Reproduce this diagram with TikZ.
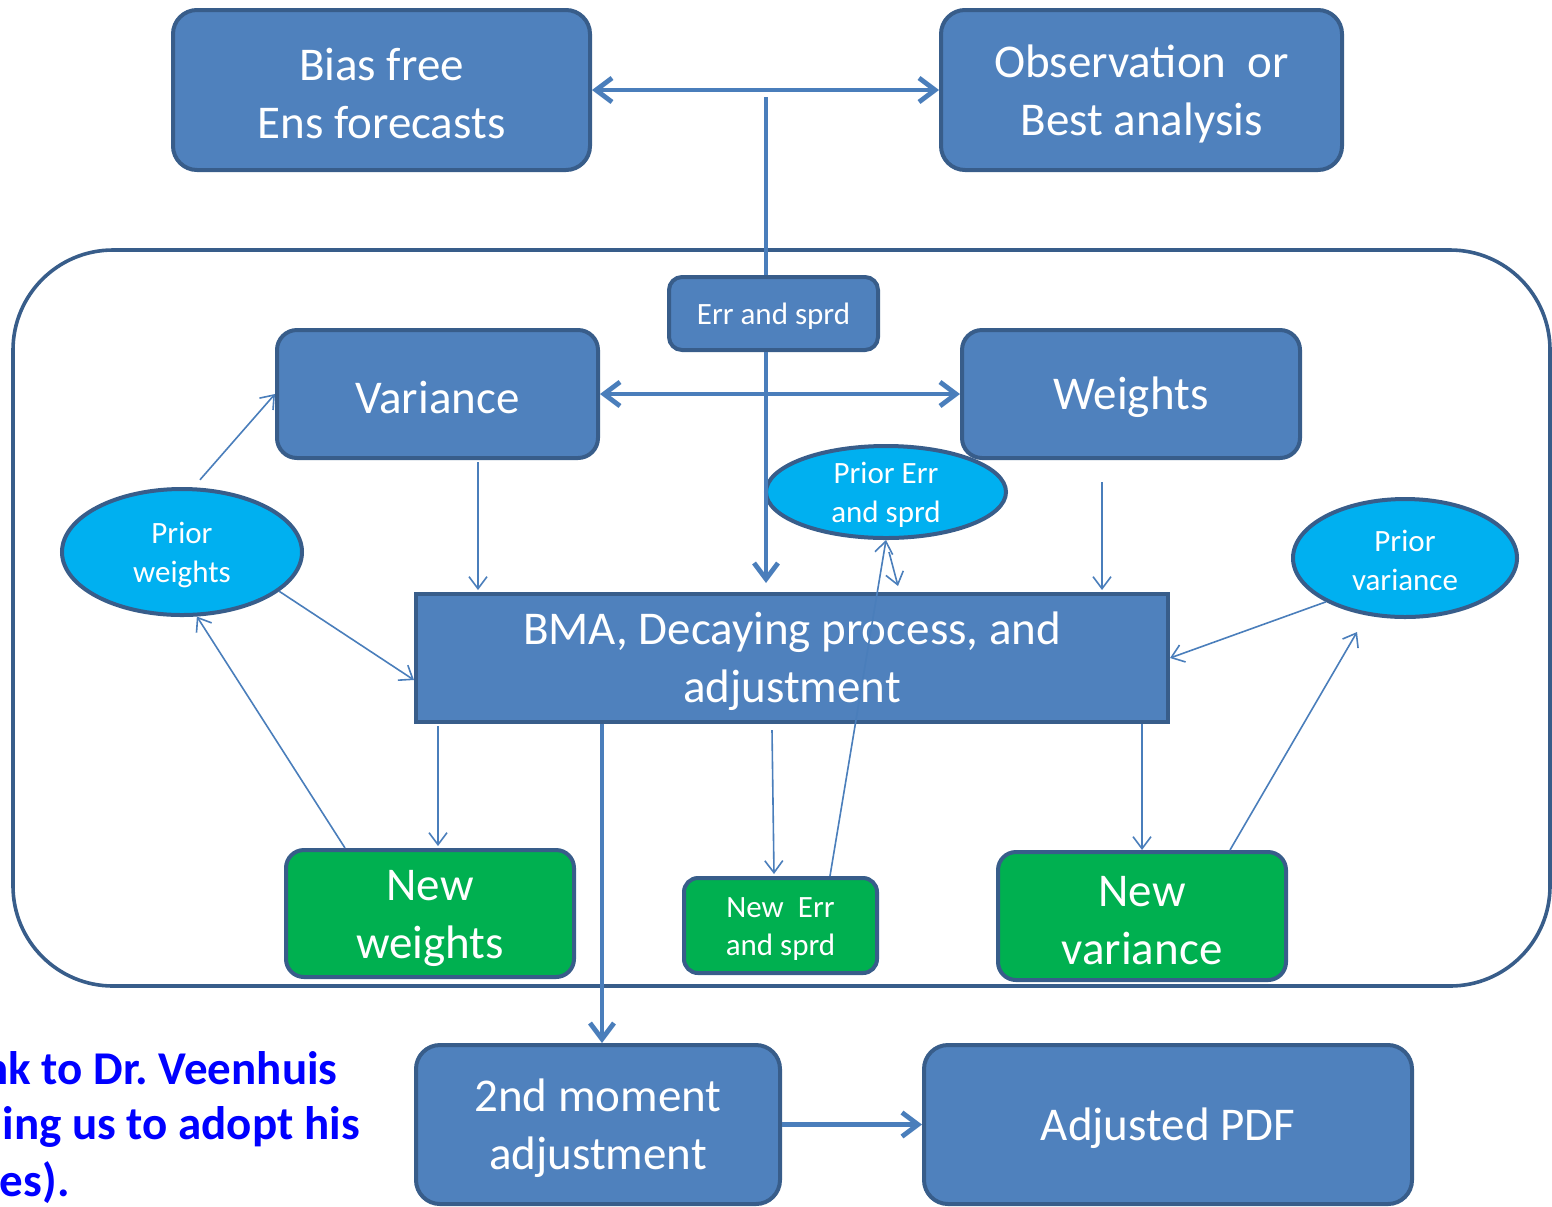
\documentclass[tikz,border=0pt]{standalone}
\usepackage{fontspec}
\setmainfont{Carlito}
\usetikzlibrary{shapes.geometric,arrows.meta,calc}
\definecolor{boxfill}{HTML}{4F81BD}
\definecolor{boxedge}{HTML}{385D8A}
\definecolor{linkblue}{HTML}{4A7EBB}
\definecolor{priorfill}{HTML}{00B0F0}
\definecolor{newfill}{HTML}{00B050}
\definecolor{thanksblue}{HTML}{0000FF}
\newcommand{\boxlift}{\rule{0pt}{0.85em}}
\tikzset{
    stage/.style={draw=boxedge, fill=boxfill, line width=2pt, rounded corners=12pt, text=white, align=center, inner sep=0pt, font=\fontsize{23.5}{29}\selectfont},
    newstage/.style={stage, fill=newfill, rounded corners=9pt},
    prior/.style={ellipse, draw=boxedge, fill=priorfill, line width=2pt, text=white, align=center, inner sep=0pt, font=\fontsize{15.5}{19.5}\selectfont},
    bigflow/.style={linkblue, line width=2.4pt, -{Straight Barb[length=8pt,width=12pt]}},
    bigboth/.style={bigflow, {Straight Barb[length=8pt,width=12pt]}-{Straight Barb[length=8pt,width=12pt]}},
    thinlink/.style={linkblue, line width=0.8pt, -{Straight Barb[length=6pt,width=9pt]}},
    thanks/.style={anchor=east, inner sep=0pt, text=thanksblue, font=\bfseries\fontsize{23.5}{29}\selectfont},
}

\begin{document}
\begin{tikzpicture}[x=0.5pt, y=-0.5pt]
        \useasboundingbox (0,0) rectangle (1552,1206);
        \clip (0,0) rectangle (1552,1206);
        \draw[boxedge, line width=1.8pt, rounded corners=50pt] (13,250) rectangle (1550,986);

        \node[stage, minimum width=208.5pt, minimum height=80pt] (bias) at (381.5,90) {\boxlift Bias free\\Ens forecasts};
        \node[stage, minimum width=200.5pt, minimum height=80pt] (obs) at (1141.5,90) {\boxlift Observation\ \ or\\Best analysis};
        \node[stage, minimum width=104.5pt, minimum height=36.5pt, rounded corners=6.5pt, font=\fontsize{15.5}{19}\selectfont] (errsprd) at (773.5,313.5) {\boxlift Err and sprd};
        \node[stage, minimum width=160.5pt, minimum height=64pt, rounded corners=10pt] (variance) at (437.5,394) {\boxlift Variance};
        \node[stage, minimum width=169pt, minimum height=64pt, rounded corners=10pt] (weights) at (1131,394) {\boxlift Weights};
        \node[prior, inner ysep=-5pt, minimum width=120pt, minimum height=46pt] (priorerr) at (886,492) {\boxlift Prior Err\\and sprd};
        \node[prior, minimum width=120pt, minimum height=63pt] (priorw) at (182,552) {\boxlift Prior\\weights};
        \node[prior, minimum width=112pt, minimum height=59pt] (priorvar) at (1405,558) {\boxlift Prior\\variance};
        \node[stage, sharp corners, minimum width=376pt, minimum height=64pt] (bma) at (792,658) {\boxlift BMA, Decaying process, and\\adjustment};
        \node[newstage, minimum width=144pt, minimum height=63.5pt] (neww) at (430,913.5) {\boxlift New\\weights};
        \node[newstage, minimum width=96.5pt, minimum height=47.5pt, rounded corners=7pt, font=\fontsize{15.5}{19}\selectfont] (newerr) at (780.5,925.5) {\boxlift New\ \ Err\\and sprd};
        \node[newstage, minimum width=144pt, minimum height=64pt] (newvar) at (1142,916) {\boxlift New\\variance};
        \node[stage, minimum width=182pt, minimum height=79.5pt] (second) at (598,1124.5) {\boxlift 2nd moment\\adjustment};
        \node[stage, minimum width=244pt, minimum height=79.5pt] (pdf) at (1168,1124.5) {\boxlift Adjusted PDF};

        \coordinate (split) at (766,97);
        \draw[bigboth] (bias.east) -- (obs.west);
        \draw[linkblue, line width=2.4pt] (split) -- (split |- errsprd.north);
        \draw[bigflow] (errsprd.south -| split) -- ($(bma.north -| split)+(0,-9)$);
        \draw[bigboth] (variance.east) -- (weights.west);
        \draw[bigflow] ($(bma.south -| second.north)+(4,0)$) -- ($(second.north)+(4,0)$);
        \draw[bigflow] (second.east) -- (pdf.west);

        \draw[thinlink, shorten <=5pt] (priorw.80) -- (variance.west);
        \draw[thinlink] (priorw.-22) -- ($(bma.west)+(0,22)$);
        \draw[thinlink] ($(neww.north)+(-85,0)$) -- (priorw.-77);
        \draw[thinlink] ($(variance.south)+(40.5,2)$) -- ($(bma.north -| variance.south)+(40.5,-2)$);
        \draw[thinlink] ($(bma.south -| neww.north)+(8,2)$) -- ($(neww.north)+(8,-2)$);
        \draw[thinlink] ($(bma.south -| newerr.north)+(-8.5,6)$) -- ($(newerr.north)+(-6.5,-2)$);
        \draw[thinlink] ($(newerr.north)+(49.5,0)$) -- (priorerr.south);
        \draw[thinlink] ($(priorerr.south)+(3,12)$) -- ($(bma.north -| priorerr.south)+(12,-6)$);
        \draw[thinlink] ($(weights.south)+(-29,22)$) -- ($(bma.north -| weights.south)+(-29,-2)$);
        \draw[thinlink] (priorvar.-151) -- (bma.east);
        \draw[thinlink] (bma.south -| newvar.north) -- (newvar.north);
        \draw[thinlink] ($(newvar.north)+(88,0)$) -- ($(priorvar.south)+(-48,13)$);

        \node[thanks] (thanks1) at (338,1068) {nk to Dr.\ Veenhuis};
        \node[thanks] (thanks2) at (360,1127) {ing us to adopt his};
        \node[thanks] (thanks3) at (70,1183) {es).};
    \end{tikzpicture}
\end{document}
